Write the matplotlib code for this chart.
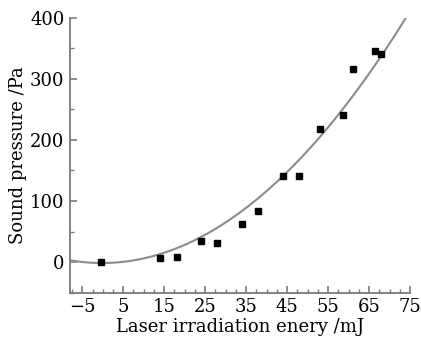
import numpy as np
import matplotlib
matplotlib.use("Agg")
import matplotlib.pyplot as plt
from matplotlib.ticker import MultipleLocator

energy = [-0.5, 14, 18, 24, 28, 34, 38, 44, 48, 53, 58.7, 61.2, 66.4, 67.8]
pressure = [0, 6, 9, 34, 31, 62, 84, 141, 141, 218, 241, 316, 345, 341]

# fitted quadratic as drawn in the figure: a*x^2 + b*x + c
fit_coef = [0.0729, 0.028, -1.44]

xticks = [-5, 5, 15, 25, 35, 45, 55, 65, 75]
yticks = [0, 100, 200, 300, 400]

plt.rcParams['font.family'] = ['DejaVu Serif']
plt.rcParams['mathtext.fontset'] = 'dejavuserif'

fig = plt.figure(figsize=(4.21, 3.42), dpi=100)
ax = fig.add_axes([70/421, 1-292.7/342, (410-70)/421, (292.7-17.7)/342])

xs = np.linspace(-8, 76, 300)
ax.plot(xs, np.polyval(fit_coef, xs), color='#8c8c8c', lw=1.5, zorder=2)
ax.plot(energy, pressure, 's', color='black', ms=4.5, zorder=3)

ax.set_xlim(-8, 75)
ax.set_ylim(-50, 400)
ax.set_xticks(xticks)
ax.set_xticklabels([str(t).replace('-', '\u2212') for t in xticks])
ax.set_yticks(yticks)
ax.xaxis.set_minor_locator(MultipleLocator(2.5))
ax.yaxis.set_minor_locator(MultipleLocator(50))

for s in ['top', 'right']:
    ax.spines[s].set_visible(False)
for s in ['left', 'bottom']:
    ax.spines[s].set_color('#7a7a7a')
    ax.spines[s].set_linewidth(1.3)

ax.tick_params(which='both', direction='in', color='#7a7a7a', labelsize=13, pad=4)
ax.tick_params(which='major', length=5, width=1.2)
ax.tick_params(which='minor', length=3, width=1.0)

ax.set_xlabel('Laser irradiation enery /mJ', fontsize=13, labelpad=1)
ax.set_ylabel('Sound pressure /Pa', fontsize=13, labelpad=2)

fig.savefig('out.png', dpi=100)
